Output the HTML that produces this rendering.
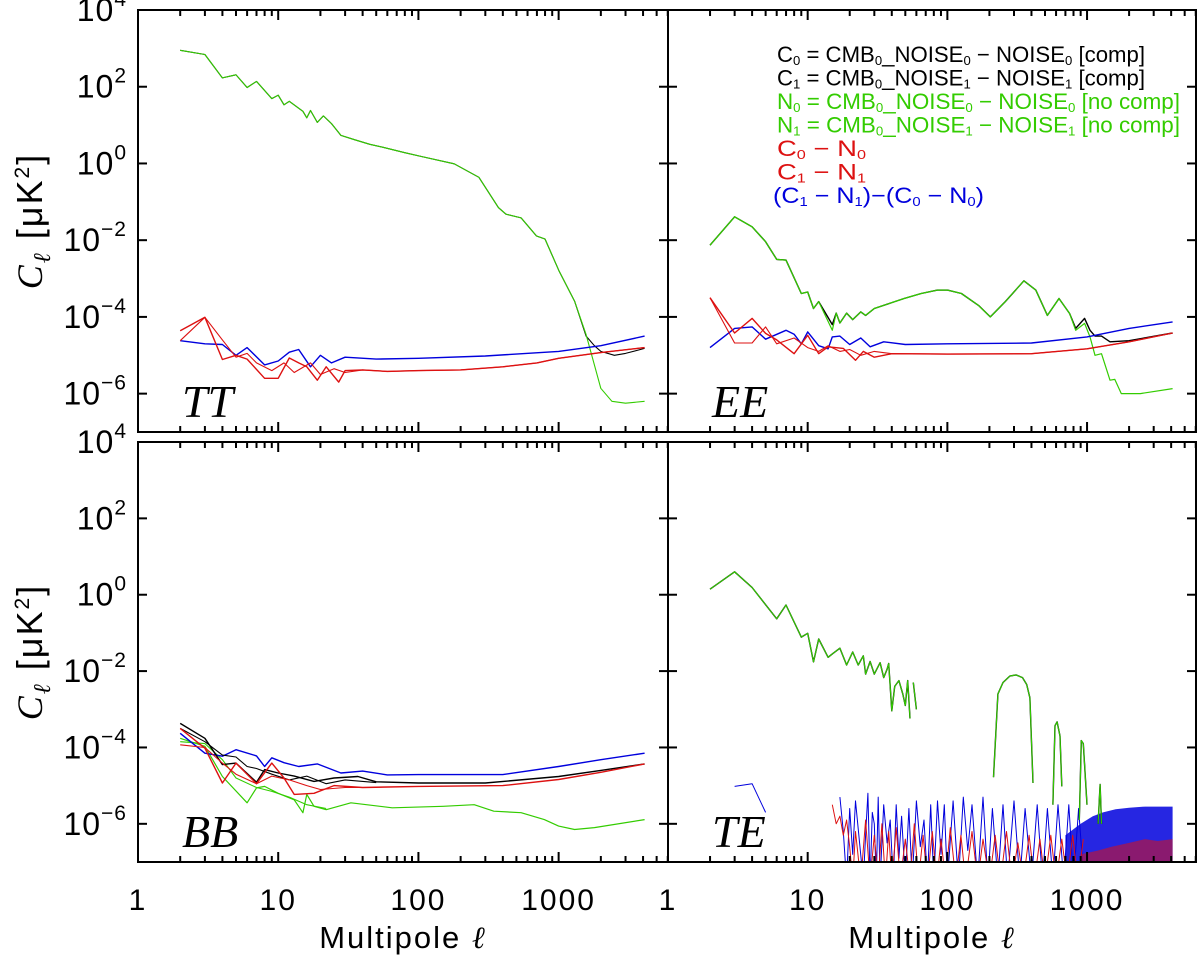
<!DOCTYPE html>
<html>
<head>
<meta charset="utf-8">
<style>
html,body{margin:0;padding:0;background:#fff;}
svg{display:block;font-family:"Liberation Sans",sans-serif;}
</style>
</head>
<body>
<svg id="chart" width="1200" height="960" viewBox="0 0 1200 960" xmlns="http://www.w3.org/2000/svg">
  <rect x="0" y="0" width="1200" height="960" fill="#fff"/>
  <g id="frames"></g>
  <g id="data"></g>
  <g id="axes"></g>
  <g id="legend" font-size="22">
    <text x="777" y="62" fill="#000" textLength="368" lengthAdjust="spacingAndGlyphs">C<tspan font-size="13" dy="3">0</tspan><tspan dy="-3"> = CMB</tspan><tspan font-size="13" dy="3">0</tspan><tspan dy="-3">_NOISE</tspan><tspan font-size="13" dy="3">0</tspan><tspan dy="-3"> − NOISE</tspan><tspan font-size="13" dy="3">0</tspan><tspan dy="-3"> [comp]</tspan></text>
    <text x="777" y="85.5" fill="#000" textLength="368" lengthAdjust="spacingAndGlyphs">C<tspan font-size="13" dy="3">1</tspan><tspan dy="-3"> = CMB</tspan><tspan font-size="13" dy="3">0</tspan><tspan dy="-3">_NOISE</tspan><tspan font-size="13" dy="3">1</tspan><tspan dy="-3"> − NOISE</tspan><tspan font-size="13" dy="3">1</tspan><tspan dy="-3"> [comp]</tspan></text>
    <text x="777" y="109" fill="#33cc00" textLength="403" lengthAdjust="spacingAndGlyphs">N<tspan font-size="13" dy="3">0</tspan><tspan dy="-3"> = CMB</tspan><tspan font-size="13" dy="3">0</tspan><tspan dy="-3">_NOISE</tspan><tspan font-size="13" dy="3">0</tspan><tspan dy="-3"> − NOISE</tspan><tspan font-size="13" dy="3">0</tspan><tspan dy="-3"> [no comp]</tspan></text>
    <text x="777" y="132.5" fill="#33cc00" textLength="403" lengthAdjust="spacingAndGlyphs">N<tspan font-size="13" dy="3">1</tspan><tspan dy="-3"> = CMB</tspan><tspan font-size="13" dy="3">0</tspan><tspan dy="-3">_NOISE</tspan><tspan font-size="13" dy="3">1</tspan><tspan dy="-3"> − NOISE</tspan><tspan font-size="13" dy="3">1</tspan><tspan dy="-3"> [no comp]</tspan></text>
    <text x="777" y="156" fill="#dd1111" textLength="89" lengthAdjust="spacingAndGlyphs">C<tspan font-size="13" dy="3">0</tspan><tspan dy="-3"> − N</tspan><tspan font-size="13" dy="3">0</tspan></text>
    <text x="777" y="179.5" fill="#dd1111" textLength="89" lengthAdjust="spacingAndGlyphs">C<tspan font-size="13" dy="3">1</tspan><tspan dy="-3"> − N</tspan><tspan font-size="13" dy="3">1</tspan></text>
    <text x="773" y="203" fill="#0000dd" textLength="211" lengthAdjust="spacingAndGlyphs">(C<tspan font-size="13" dy="3">1</tspan><tspan dy="-3"> − N</tspan><tspan font-size="13" dy="3">1</tspan><tspan dy="-3">)−(C</tspan><tspan font-size="13" dy="3">0</tspan><tspan dy="-3"> − N</tspan><tspan font-size="13" dy="3">0</tspan><tspan dy="-3">)</tspan></text>
  </g>
</svg>
<script>
// ---- data (log10 of C_ell in muK^2) ----
const ttGreenL = [2,3,4,5,6,7,9,10,11,12,15,16,17,19,21,24,28,35,45,56,80,105,180,270,372,420,540,695,800,1010,1300,1570,2000,2400,3000,4100];
const ttGreenV = [2.95,2.84,2.23,2.31,1.98,2.14,1.69,1.78,1.53,1.62,1.36,1.19,1.38,1.07,1.24,1.04,0.73,0.62,0.5,0.42,0.28,0.18,-0.01,-0.36,-1.15,-1.32,-1.42,-1.89,-1.97,-2.81,-3.59,-4.46,-5.86,-6.2,-6.25,-6.2];
const ttBlackL = [2,3,4,5,6,7,9,10,11,12,15,16,17,19,21,24,28,35,45,56,80,105,180,270,372,420,540,695,800,1010,1300,1570,1800,2000,2500,3000,4100];
const ttBlackV = [2.95,2.84,2.23,2.31,1.98,2.14,1.69,1.78,1.53,1.62,1.36,1.19,1.38,1.07,1.24,1.04,0.73,0.62,0.5,0.42,0.28,0.18,-0.01,-0.36,-1.15,-1.32,-1.42,-1.89,-1.97,-2.81,-3.59,-4.5,-4.75,-4.9,-5.0,-4.95,-4.82];
const ttRed1L = [2,3,4,5,6,8,10,12,14,16,19,22,27,30,40,60,100,200,400,700,1000,2000,4100];
const ttRed1V = [-4.36,-4.01,-5.11,-5.0,-5.1,-5.6,-5.6,-5.07,-5.2,-5.3,-5.65,-5.3,-5.7,-5.4,-5.38,-5.42,-5.4,-5.38,-5.3,-5.2,-5.08,-4.93,-4.8];
const ttRed2L = [2,3,4,5,6,7,9,11,13,17,20,25,30,40,60,100,200,400,700,1000,2000,4100];
const ttRed2V = [-4.62,-4.01,-4.6,-5.05,-4.95,-5.2,-5.4,-5.2,-5.45,-5.2,-5.5,-5.35,-5.45,-5.38,-5.42,-5.4,-5.38,-5.3,-5.2,-5.08,-4.93,-4.8];
const ttBlueL = [2,3,4,5,6,8,10,12,14,17,20,24,30,50,100,300,1000,2000,4100];
const ttBlueV = [-4.62,-4.7,-4.72,-5.0,-4.8,-5.25,-5.15,-4.92,-4.85,-5.3,-5.0,-5.2,-5.05,-5.1,-5.08,-5.02,-4.9,-4.75,-4.5];

const eeGreenL = [2,3,4,5,6,7,9,10,11,12,15,16,17,19,21,24,26,30,49,65,85,100,126,167,203,260,353,430,520,630,750,830,960,1050,1140,1270,1460,1580,1760,2410,4100];
const eeGreenV = [-2.13,-1.39,-1.65,-2.04,-2.5,-2.52,-3.39,-3.35,-3.78,-3.6,-4.35,-3.9,-4.16,-3.9,-4.07,-3.87,-3.96,-3.78,-3.52,-3.39,-3.3,-3.3,-3.39,-3.7,-4.0,-3.6,-3.06,-3.3,-3.96,-3.52,-3.91,-4.35,-4.17,-4.52,-5.0,-4.96,-5.65,-5.63,-6.0,-6.0,-5.87];
const eeBlackL = [2,3,4,5,6,7,9,10,11,12,15,16,17,19,21,24,26,30,49,65,85,100,126,167,203,260,353,430,520,630,750,830,960,1050,1140,1270,1460,2000,4100];
const eeBlackV = [-2.13,-1.39,-1.65,-2.04,-2.5,-2.52,-3.39,-3.35,-3.78,-3.6,-4.2,-3.9,-4.16,-3.9,-4.07,-3.87,-3.96,-3.78,-3.52,-3.39,-3.3,-3.3,-3.39,-3.7,-4.0,-3.6,-3.06,-3.3,-3.96,-3.52,-3.91,-4.3,-4.04,-4.35,-4.5,-4.5,-4.65,-4.62,-4.42];
const eeRed1L = [2,3,4,5,6,8,10,12,14,18,22,25,30,40,100,400,1000,2000,4100];
const eeRed1V = [-3.5,-4.42,-4.04,-4.43,-4.6,-4.96,-4.48,-4.96,-4.78,-4.82,-5.13,-4.9,-5.05,-4.96,-4.97,-4.96,-4.83,-4.65,-4.42];
const eeRed2L = [2,3,4,5,6,8,10,12,14,17,20,24,30,40,100,400,1000,2000,4100];
const eeRed2V = [-3.5,-4.68,-4.68,-4.26,-4.7,-4.55,-4.8,-4.9,-4.75,-4.9,-4.85,-5.0,-4.9,-4.96,-4.97,-4.96,-4.83,-4.65,-4.42];
const eeBlueL = [2,3,4,5,7,8,9,10,12,14,15,17,20,24,28,35,50,100,400,1000,2000,4100];
const eeBlueV = [-4.8,-4.3,-4.26,-4.58,-4.35,-4.45,-4.7,-4.39,-4.75,-4.83,-4.52,-4.5,-4.72,-4.55,-4.78,-4.65,-4.72,-4.7,-4.68,-4.52,-4.3,-4.13];

const bbGreen1L = [2,3,4,6,7,8,10,13,15,16,18,22,33,65,150,250,345,540,790,1000,1300,1800,4100];
const bbGreen1V = [-3.76,-3.97,-4.76,-5.45,-5.06,-5.02,-5.2,-5.37,-5.71,-5.23,-5.54,-5.63,-5.45,-5.58,-5.54,-5.5,-5.67,-5.71,-5.89,-6.06,-6.15,-6.1,-5.89];
const bbGreen2L = [2,3,4,5,7,9,12,16,22];
const bbGreen2V = [-3.85,-3.9,-4.32,-4.8,-5.05,-5.15,-5.3,-5.5,-5.6];
const bbBlack1L = [2,3,4,5,7,8,10,13,18,25,37,50,100,300,1000,2000,4100];
const bbBlack1V = [-3.37,-3.76,-4.45,-4.41,-4.91,-4.58,-4.67,-4.75,-4.89,-4.8,-4.76,-4.9,-4.93,-4.93,-4.76,-4.6,-4.43];
const bbBlack2L = [2,3,4,5,6,7,9,12,16,22,30,50];
const bbBlack2V = [-3.5,-3.85,-4.2,-4.25,-4.5,-4.55,-4.7,-4.85,-4.75,-4.95,-4.85,-4.92];
const bbRed1L = [2,3,4,5,7,9,11,13,18,25,40,100,400,1000,2000,4100];
const bbRed1V = [-3.5,-4.02,-4.93,-4.41,-4.95,-4.41,-4.8,-5.23,-5.2,-5.0,-5.05,-5.02,-5.0,-4.84,-4.65,-4.43];
const bbRed2L = [2,3,4,5,7,9,12,16,20,30,40];
const bbRed2V = [-3.93,-4.0,-4.41,-4.7,-4.95,-4.75,-4.85,-5.0,-5.1,-5.05,-5.05];
const bbBlueL = [2,3,4,5,7,8,9,11,14,19,28,40,60,100,400,1000,2000,4100];
const bbBlueV = [-3.63,-4.15,-4.23,-4.06,-4.22,-4.5,-4.27,-4.4,-4.5,-4.43,-4.67,-4.62,-4.72,-4.71,-4.71,-4.5,-4.32,-4.15];

const teGreenL = [2,3,4,6,7,9,10,11,12,14,15,17,19,21,23,25,26,28,30,33,35,37,38,40,42,45,48,50,52,54,null,57,60,null,214,230,250,280,310,345,370,390,410,null,570,590,610,640,660,null,880,910,940,1000,null,1200,1240,1270];
const teGreenV = [0.145,0.6,0.19,-0.63,-0.27,-1.11,-1.01,-1.76,-1.16,-1.64,-1.55,-1.4,-1.84,-1.5,-1.84,-1.6,-2.08,-1.75,-2.08,-1.78,-2.17,-1.95,-1.8,-3.04,-2.4,-2.25,-2.6,-2.9,-2.25,-3.24,null,-2.3,-3.0,null,-4.78,-2.6,-2.3,-2.13,-2.1,-2.17,-2.35,-2.7,-4.93,null,-5.5,-3.43,-3.33,-3.7,-5.02,null,-5.9,-3.82,-3.9,-5.5,null,-6.0,-4.97,-6.0];
const teBlueLowL = [3,4,5];
const teBlueLowV = [-5.02,-4.95,-5.7];
const teBlueNoiseL = [17,18,19,20,21,22,25,26,27,28,29,30,31,32,33,35,37,39,41,43,45,47,50,53,56,60,64,68,72,76,80,85,90,95,100,110,120,130,140,150,165,180,195,210,230,250,270,300,330,360,400,440,480,520,570,620,680,740,800,870,950];
const teBlueNoiseV = [-5.3,-6.2,-7.5,-5.6,-6.8,-5.4,-7.5,-6.3,-5.2,-7.5,-5.7,-6.0,-7.5,-5.3,-7.5,-5.5,-6.5,-5.9,-7.5,-5.5,-6.9,-5.8,-7.5,-5.6,-7.5,-5.4,-6.6,-5.9,-7.5,-5.5,-7.5,-5.4,-6.8,-5.5,-7.5,-5.4,-7.5,-5.3,-6.7,-5.5,-7.5,-5.3,-7.5,-5.6,-7.5,-5.5,-7.5,-5.4,-7.5,-5.6,-7.5,-5.5,-7.5,-5.6,-7.5,-5.5,-7.5,-5.5,-7.5,-5.6,-7.5];
const teRedNoiseL = [15,16,17,18,19,20,21,22,24,26,28,30,32,34,36,38,40,43,46,50,54,58,62,67,72,78,84,90,97,105,115,125,135,150,165,180,200,220,240,265,290,320,350,385,420,460,500,550,600,660,720,790,860,940];
const teRedNoiseV = [-5.5,-6.0,-5.8,-6.3,-5.9,-6.6,-7.5,-6.2,-7.5,-5.9,-7.5,-6.3,-7.5,-6.0,-7.5,-6.2,-7.5,-6.1,-7.5,-6.4,-7.5,-6.0,-7.5,-6.3,-7.5,-6.2,-7.5,-6.4,-7.5,-6.1,-7.5,-6.3,-7.5,-6.2,-7.5,-6.4,-7.5,-6.3,-7.5,-6.2,-7.5,-6.5,-7.5,-6.3,-7.5,-6.4,-7.5,-6.3,-7.5,-6.4,-7.5,-6.3,-7.5,-6.4];
const teBlueBandL = [700,900,1100,1300,1600,2000,2600,3200,4100];
const teBlueBandTop = [-6.3,-6.0,-5.8,-5.7,-5.62,-5.58,-5.55,-5.55,-5.55];
const teRedBandL = [900,1200,1500,2000,2600,3200,4100];
const teRedBandTop = [-6.8,-6.7,-6.6,-6.5,-6.4,-6.45,-6.4];

const yTickExps = [4,2,0,-2,-4,-6];
const xTickLabels = ["1","10","100","1000"];

// ---- layout ----
const NS = 'http://www.w3.org/2000/svg';
const XDEC = 3.78, YTOP = 4, YDEC = 11;
const panels = {
  TT:{x0:138,x1:668,y0:10,y1:432,label:'TT',left:true,bottom:false},
  EE:{x0:668,x1:1196,y0:10,y1:432,label:'EE',left:false,bottom:false},
  BB:{x0:138,x1:668,y0:442,y1:862,label:'BB',left:true,bottom:true},
  TE:{x0:668,x1:1196,y0:442,y1:862,label:'TE',left:false,bottom:true}
};
function sx(p, ell){ return p.x0 + Math.log10(ell) * (p.x1 - p.x0) / XDEC; }
function sy(p, lg){ return p.y0 + (YTOP - lg) * (p.y1 - p.y0) / YDEC; }
function el(tag, attrs, parent){
  const e = document.createElementNS(NS, tag);
  for (const k in attrs) e.setAttribute(k, attrs[k]);
  parent.appendChild(e);
  return e;
}
const gFrames = document.getElementById('frames');
const gData = document.getElementById('data');
const gAxes = document.getElementById('axes');
const defs = el('defs', {}, document.getElementById('chart'));

function drawSeries(p, ells, vals, color, name, width){
  let d = '', pen = false;
  const n = Math.min(ells.length, vals.length);
  for (let i = 0; i < n; i++){
    if (ells[i] === null || vals[i] === null){ pen = false; continue; }
    d += (pen ? 'L' : 'M') + sx(p, ells[i]).toFixed(1) + ' ' + sy(p, vals[i]).toFixed(1);
    pen = true;
  }
  const path = el('path', {d:d, fill:'none', stroke:color, 'stroke-width':width || 1.1, 'stroke-linejoin':'round', 'clip-path':'url(#clip-' + p.label + ')'}, gData);
  
  
}
function drawBand(p, ells, tops, color, name, op){
  let d = 'M' + sx(p, ells[0]).toFixed(1) + ' ' + p.y1;
  const n = Math.min(ells.length, tops.length);
  for (let i = 0; i < n; i++) d += 'L' + sx(p, ells[i]).toFixed(1) + ' ' + sy(p, tops[i]).toFixed(1);
  d += 'L' + sx(p, ells[n - 1]).toFixed(1) + ' ' + p.y1 + 'Z';
  const path = el('path', {d:d, fill:color, 'fill-opacity':op, stroke:'none', 'clip-path':'url(#clip-' + p.label + ')'}, gData);
  
  
}

for (const key in panels){
  const p = panels[key];
  const cp = el('clipPath', {id:'clip-' + p.label}, defs);
  el('rect', {x:p.x0, y:p.y0, width:p.x1 - p.x0, height:p.y1 - p.y0}, cp);
  const frame = el('rect', {x:p.x0, y:p.y0, width:p.x1 - p.x0, height:p.y1 - p.y0, fill:'none', stroke:'#000', 'stroke-width':2}, gAxes);
  
  
  for (let dec = 0; dec < 4; dec++){
    for (let m = 1; m <= 9; m++){
      const ell = m * Math.pow(10, dec);
      if (Math.log10(ell) > XDEC) break;
      if (ell === 1) continue;
      const x = sx(p, ell), len = (m === 1) ? 10 : 6;
      el('line', {x1:x, x2:x, y1:p.y1, y2:p.y1 - len, stroke:'#000', 'stroke-width':2}, gAxes);
      el('line', {x1:x, x2:x, y1:p.y0, y2:p.y0 + len, stroke:'#000', 'stroke-width':2}, gAxes);
    }
  }
  yTickExps.forEach(e => {
    const y = sy(p, e);
    el('line', {x1:p.x0, x2:p.x0 + 9, y1:y, y2:y, stroke:'#000', 'stroke-width':2}, gAxes);
    el('line', {x1:p.x1, x2:p.x1 - 9, y1:y, y2:y, stroke:'#000', 'stroke-width':2}, gAxes);
    if (p.left){
      const t = el('text', {x:127, y:y + 11, 'text-anchor':'end', 'font-size':32, 'letter-spacing':1, fill:'#000'}, gAxes);
      
      
      t.textContent = '10';
      const s = el('tspan', {'font-size':21, dy:-15}, t);
      s.textContent = (e < 0 ? '−' + (-e) : '' + e);
    }
  });
  if (p.bottom){
    xTickLabels.forEach((lab, i) => {
      const t = el('text', {x:sx(p, Math.pow(10, i)), y:910, 'text-anchor':'middle', 'font-size':30, 'letter-spacing':2, fill:'#000'}, gAxes);
      
      
      t.textContent = lab;
    });
    const xt = el('text', {x:(p.x0 + p.x1) / 2, y:948, 'text-anchor':'middle', 'font-size':31, 'letter-spacing':2, fill:'#000'}, gAxes);
    
    
    xt.textContent = 'Multipole ';
    const ls = el('tspan', {'font-style':'italic', 'font-family':'"DejaVu Serif",serif'}, xt);
    ls.textContent = 'ℓ';
  }
  if (p.left){
    const cy = (p.y0 + p.y1) / 2;
    const yt = el('text', {x:0, y:0, transform:'translate(42,' + cy + ') rotate(-90)', 'text-anchor':'middle', 'font-size':36, 'letter-spacing':2, fill:'#000'}, gAxes);
    
    
    const c = el('tspan', {'font-style':'italic', 'font-family':'"Liberation Serif",serif'}, yt);
    c.textContent = 'C';
    const l = el('tspan', {'font-size':24, dy:8, 'font-style':'italic', 'font-family':'"DejaVu Serif",serif'}, yt);
    l.textContent = 'ℓ';
    const r = el('tspan', {dy:-8}, yt);
    r.textContent = ' [μK';
    const sq = el('tspan', {'font-size':21, dy:-13}, yt);
    sq.textContent = '2';
    const cl = el('tspan', {dy:13}, yt);
    cl.textContent = ']';
  }
  const pl = el('text', {x:p.x0 + 44, y:p.y1 - 15, 'font-size':46, 'font-style':'italic', 'font-family':'"Liberation Serif",serif', fill:'#000'}, gAxes);
  
  
  pl.textContent = p.label;
}

const G = '#33cc00', R = '#dd1111', B = '#0000dd', K = '#000';
drawSeries(panels.TT, ttBlackL, ttBlackV, K, 'tt-c-black');
drawSeries(panels.TT, ttGreenL, ttGreenV, G, 'tt-n-green');
drawSeries(panels.TT, ttBlueL, ttBlueV, B, 'tt-diff-blue', 1.4);
drawSeries(panels.TT, ttRed2L, ttRed2V, R, 'tt-c1-n1-red', 1.1);
drawSeries(panels.TT, ttRed1L, ttRed1V, R, 'tt-c0-n0-red', 1.4);
drawSeries(panels.EE, eeBlackL, eeBlackV, K, 'ee-c-black', 1.4);
drawSeries(panels.EE, eeGreenL, eeGreenV, G, 'ee-n-green', 1.2);
drawSeries(panels.EE, eeBlueL, eeBlueV, B, 'ee-diff-blue', 1.4);
drawSeries(panels.EE, eeRed2L, eeRed2V, R, 'ee-c1-n1-red', 1.1);
drawSeries(panels.EE, eeRed1L, eeRed1V, R, 'ee-c0-n0-red', 1.4);
drawSeries(panels.BB, bbGreen1L, bbGreen1V, G, 'bb-n0-green', 1.2);
drawSeries(panels.BB, bbGreen2L, bbGreen2V, G, 'bb-n1-green');
drawSeries(panels.BB, bbBlueL, bbBlueV, B, 'bb-diff-blue', 1.4);
drawSeries(panels.BB, bbBlack1L, bbBlack1V, K, 'bb-c0-black', 1.4);
drawSeries(panels.BB, bbBlack2L, bbBlack2V, K, 'bb-c1-black');
drawSeries(panels.BB, bbRed2L, bbRed2V, R, 'bb-c1-n1-red');
drawSeries(panels.BB, bbRed1L, bbRed1V, R, 'bb-c0-n0-red', 1.4);
drawBand(panels.TE, teBlueBandL, teBlueBandTop, B, 'te-diff-blue-band', 0.85);
drawSeries(panels.TE, teBlueNoiseL, teBlueNoiseV, B, 'te-diff-blue-noise', 1);
drawSeries(panels.TE, teBlueLowL, teBlueLowV, B, 'te-diff-blue-low', 1);
drawBand(panels.TE, teRedBandL, teRedBandTop, R, 'te-red-band', 0.55);
drawSeries(panels.TE, teRedNoiseL, teRedNoiseV, R, 'te-red-noise', 1);
drawSeries(panels.TE, teGreenL, teGreenV, K, 'te-c-black', 1.4);
drawSeries(panels.TE, teGreenL, teGreenV, G, 'te-n-green', 1.1);
</script>
</body>
</html>
